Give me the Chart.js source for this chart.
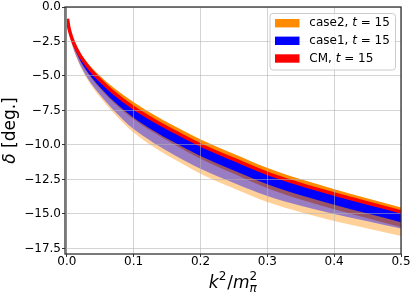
<!DOCTYPE html>
<html>
<head>
<meta charset="utf-8">
<script src="https://cdn.jsdelivr.net/npm/chart.js@4.4.0/dist/chart.umd.min.js"></script>
<style>
	html, body { margin: 0; padding: 0; background: #fff; }
	#wrap { width: 415px; height: 297px; }
</style>
</head>
<body>
<div id="wrap"><canvas id="phaseChart" width="415" height="297"></canvas></div>
<script>
// x values: k^2 / m_pi^2
var k2 = [0.001, 0.003, 0.006, 0.01, 0.015, 0.02, 0.03, 0.04, 0.05, 0.07, 0.1, 0.13, 0.16, 0.2, 0.25, 0.3, 0.35, 0.4, 0.45, 0.5];

// CM, t = 15 (central curve)
var cmMid = [-0.85, -1.48, -2.03, -2.57, -3.08, -3.52, -4.22, -4.8, -5.3, -6.2, -7.3, -8.2, -9.0, -10.0, -11.05, -12.05, -12.85, -13.55, -14.2, -14.85];

// case2, t = 15 (orange band: upper edge, inner lower edge, outer lower edge)
var case2Top = [-0.83, -1.42, -1.93, -2.44, -2.92, -3.33, -3.99, -4.54, -5.01, -5.86, -6.9, -7.8, -8.6, -9.6, -10.66, -11.67, -12.49, -13.2, -13.87, -14.53];
var case2InnerLow = [-0.89, -1.6, -2.22, -2.83, -3.41, -3.91, -4.7, -5.36, -5.92, -6.92, -8.14, -9.1, -9.95, -11.0, -12.09, -13.13, -13.95, -14.65, -15.31, -15.95];
var case2Low = [-0.92, -1.71, -2.41, -3.09, -3.74, -4.3, -5.2, -5.93, -6.55, -7.68, -9.1, -10.15, -11.02, -12.08, -13.15, -14.13, -14.87, -15.5, -16.05, -16.6];

// case1, t = 15 (blue band: inner lower edge, outer lower edge)
var case1InnerLow = [-0.88, -1.58, -2.19, -2.79, -3.36, -3.85, -4.63, -5.28, -5.83, -6.82, -8.02, -8.96, -9.79, -10.8, -11.85, -12.85, -13.65, -14.33, -14.97, -15.6];
var case1Low = [-0.91, -1.68, -2.36, -3.02, -3.65, -4.2, -5.07, -5.78, -6.38, -7.48, -8.85, -9.85, -10.7, -11.72, -12.75, -13.7, -14.4, -15.0, -15.52, -16.05];

var yTicks = [-17.5, -15.0, -12.5, -10.0, -7.5, -5.0, -2.5, 0.0];
var xTicks = [0.0, 0.1, 0.2, 0.3, 0.4, 0.5];

var legendNames = ['case2', 'case1', 'CM'];
var legendT = '15';
var legendColors = ['#ff8c00', '#0000ff', '#ff0000'];

function pts(arr) {
	return arr.map(function(v, i) { return { x: k2[i], y: v }; });
}

function band(data, fillTo, color) {
	return {
		data: pts(data),
		borderColor: 'rgba(0,0,0,0)',
		borderWidth: 0,
		pointRadius: 0,
		backgroundColor: color,
		fill: fillTo,
		cubicInterpolationMode: 'monotone'
	};
}

function minusFmt(v, d) {
	var s = Math.abs(v).toFixed(d);
	return (v < -1e-9 ? '\u2212' : '') + s;
}

var FONT = '"DejaVu Sans"';
var GRID = 'rgba(176,176,176,0.55)';

var decorPlugin = {
	id: 'decor',
	afterDraw: function(chart) {
		var ctx = chart.ctx, a = chart.chartArea;
		ctx.save();

		// frame
		ctx.strokeStyle = '#333';
		ctx.lineWidth = 1.3;
		ctx.strokeRect(a.left, a.top, a.right - a.left, a.bottom - a.top);

		// legend
		var lx = 270, ly = 13.5, lw = 125.5, lh = 56.5, r = 3;
		ctx.beginPath();
		ctx.moveTo(lx + r, ly);
		ctx.arcTo(lx + lw, ly, lx + lw, ly + lh, r);
		ctx.arcTo(lx + lw, ly + lh, lx, ly + lh, r);
		ctx.arcTo(lx, ly + lh, lx, ly, r);
		ctx.arcTo(lx, ly, lx + lw, ly, r);
		ctx.closePath();
		ctx.fillStyle = 'rgba(255,255,255,0.8)';
		ctx.fill();
		ctx.strokeStyle = '#cccccc';
		ctx.lineWidth = 1;
		ctx.stroke();

		var rows = [23.2, 40.8, 58.5];
		ctx.textBaseline = 'middle';
		ctx.textAlign = 'left';
		for (var i = 0; i < legendNames.length; i++) {
			ctx.fillStyle = legendColors[i];
			ctx.fillRect(275, rows[i] - 4.2, 24.5, 8.4);
			var tx = 309.3;
			ctx.fillStyle = '#000';
			ctx.font = '12px ' + FONT;
			var s1 = legendNames[i] + ', ';
			ctx.fillText(s1, tx, rows[i]);
			tx += ctx.measureText(s1).width;
			ctx.font = 'italic 12px ' + FONT;
			ctx.fillText('t', tx, rows[i]);
			tx += ctx.measureText('t').width;
			ctx.font = '12px ' + FONT;
			ctx.fillText(' = ' + legendT, tx, rows[i]);
		}

		// x axis title: k^2/m_pi^2
		ctx.textBaseline = 'alphabetic';
		var big = '17px ' + FONT, bigI = 'italic 17px ' + FONT;
		var sm = '12px ' + FONT, smI = 'italic 12px ' + FONT;
		ctx.font = bigI; var wk = ctx.measureText('k').width;
		ctx.font = sm; var w2 = ctx.measureText('2').width;
		ctx.font = big; var ws = ctx.measureText('/').width;
		ctx.font = bigI; var wm = ctx.measureText('m').width;
		ctx.font = smI; var wpi = ctx.measureText('\u03c0').width;
		var total = wk + w2 + 1 + ws + wm + Math.max(w2, wpi);
		var x0 = (a.left + a.right) / 2 - total / 2;
		var base = 287.5;
		ctx.fillStyle = '#000';
		ctx.font = bigI; ctx.fillText('k', x0, base); x0 += wk;
		ctx.font = sm; ctx.fillText('2', x0, base - 7.5); x0 += w2 + 1;
		ctx.font = big; ctx.fillText('/', x0, base); x0 += ws;
		ctx.font = bigI; ctx.fillText('m', x0, base); x0 += wm;
		ctx.font = sm; ctx.fillText('2', x0, base - 7.5);
		ctx.font = smI; ctx.fillText('\u03c0', x0, base + 4);

		// y axis title: delta [deg.]
		ctx.translate(11, (a.top + a.bottom) / 2);
		ctx.rotate(-Math.PI / 2);
		ctx.textBaseline = 'middle';
		ctx.font = bigI; var wd = ctx.measureText('\u03b4').width;
		ctx.font = big; var wr = ctx.measureText(' [deg.]').width;
		var y0 = -(wd + wr) / 2;
		ctx.font = bigI; ctx.fillText('\u03b4', y0, 0);
		ctx.font = big; ctx.fillText(' [deg.]', y0 + wd, 0);

		ctx.restore();
	}
};

Chart.defaults.font.family = FONT;
Chart.defaults.font.size = 12;
Chart.defaults.color = '#000';

var phaseChart = new Chart(document.getElementById('phaseChart'), {
	type: 'line',
	data: {
		datasets: [
			// CM line on top
			{
				data: pts(cmMid),
				borderColor: '#ff0000',
				borderWidth: 3.5,
				pointRadius: 0,
				fill: false,
				cubicInterpolationMode: 'monotone'
			},
			band(cmMid, '+1', '#0000ff'),
			band(case1InnerLow, false, 'rgba(0,0,0,0)'),
			band(cmMid, '+1', 'rgba(0,0,255,0.4)'),
			band(case1Low, false, 'rgba(0,0,0,0)'),
			band(case2Top, '+1', '#ff8c00'),
			band(case2InnerLow, false, 'rgba(0,0,0,0)'),
			band(case2Top, '+1', 'rgba(255,140,0,0.4)'),
			band(case2Low, false, 'rgba(0,0,0,0)')
		]
	},
	options: {
		responsive: false,
		animation: false,
		events: [],
		layout: { padding: { left: 0, right: 14, top: 7, bottom: 0 } },
		plugins: {
			legend: { display: false },
			tooltip: { enabled: false }
		},
		scales: {
			x: {
				type: 'linear',
				min: -0.0027,
				max: 0.5,
				afterFit: function(s) { s.height = 43; },
				afterBuildTicks: function(s) { s.ticks = xTicks.map(function(v) { return { value: v }; }); },
				ticks: {
					padding: -1,
					maxRotation: 0,
					font: { lineHeight: 1 },
					callback: function(v) { return minusFmt(v, 1); }
				},
				grid: {
					color: function(c) { return c.tick && Math.abs(c.tick.value) < 1e-9 ? '#8a8a8a' : GRID; },
					lineWidth: 1, z: 1, tickLength: 3, tickColor: '#333'
				},
				border: { display: false }
			},
			y: {
				min: -17.9,
				max: 0,
				afterFit: function(s) { s.width = 65; },
				afterBuildTicks: function(s) { s.ticks = yTicks.map(function(v) { return { value: v }; }); },
				ticks: {
					padding: 1,
					font: { lineHeight: 1 },
					callback: function(v) { return minusFmt(v, 1); }
				},
				grid: { color: GRID, lineWidth: 1, z: 1, tickLength: 3, tickColor: '#333' },
				border: { display: false }
			}
		}
	},
	plugins: [decorPlugin]
});
</script>
</body>
</html>
